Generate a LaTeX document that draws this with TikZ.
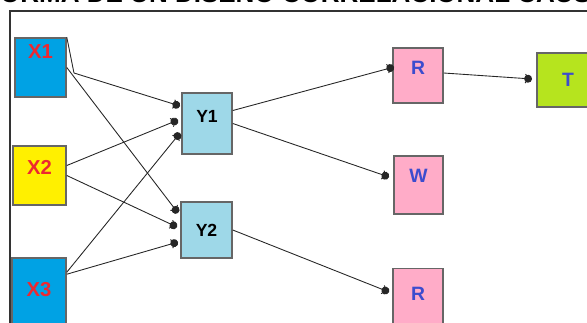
\documentclass[tikz,border=0pt]{standalone}
\usepackage{fontspec}
\setmainfont{Liberation Sans}
\usetikzlibrary{arrows.meta}

\definecolor{xblue}{RGB}{0,162,228}
\definecolor{xyellow}{RGB}{255,240,0}
\definecolor{ycyan}{RGB}{158,216,232}
\definecolor{rpink}{RGB}{255,172,200}
\definecolor{tgreen}{RGB}{182,228,30}
\definecolor{lblred}{RGB}{236,40,48}
\definecolor{lblblue}{RGB}{60,76,206}

\begin{document}
\begin{tikzpicture}[x=0.02cm,y=-0.02cm]
  \tikzset{box/.style = {shape=rectangle,draw=black!60,line width=0.9pt,inner sep=0pt,
      font=\bfseries\fontsize{10}{12}\selectfont}}
  \tikzset{xbox/.style = {box,text=lblred,font=\bfseries\fontsize{11.5}{13}\selectfont}}
  \tikzset{rbox/.style = {box,fill=rpink,text=lblblue,font=\bfseries\fontsize{11}{13}\selectfont}}
  \tikzset{up/.style = {text height=0.26cm,text depth=#1}}
  \tikzset{edge/.style = {line width=0.5pt,black!85,
      -{Straight Barb[length=2.5pt,width=5pt,sep=-3.5pt]Circle[length=4.5pt]}}}

  \clip (0,0) rectangle (587,322);

  % titulo (cortado arriba)
  \node[anchor=base west,inner sep=0pt,font=\bfseries\fontsize{14.8}{16}\selectfont] (titulo)
    at (-16,2.5) {FORMA DE UN DISEÑO CORRELACIONAL CAUSAL};
  \draw[black!80,line width=0.7pt] (10,340) -- (10,11) -- (600,11);

  % variables
  \node[xbox,fill=xblue,minimum width=1.02cm,minimum height=1.18cm,up=0.62cm] (X1) at (40.5,67.5) {X1};
  \node[xbox,fill=xyellow,minimum width=1.06cm,minimum height=1.18cm,up=0.30cm] (X2) at (39.5,175.5) {X2};
  \node[xbox,fill=xblue,minimum width=1.08cm,minimum height=1.32cm,up=0.05cm] (X3) at (39,291) {X3};

  \node[box,fill=ycyan,minimum width=1cm,minimum height=1.22cm,up=0.32cm] (Y1) at (207,123.5) {Y1};
  \node[box,fill=ycyan,minimum width=1.02cm,minimum height=1.12cm,up=0cm] (Y2) at (206.5,230) {Y2};

  \node[rbox,minimum width=1cm,minimum height=1.1cm,up=0.32cm] (R1) at (418,75.5) {R};
  \node[rbox,minimum width=0.98cm,minimum height=1.16cm,up=0.38cm] (W) at (418.5,185) {W};
  \node[rbox,minimum width=1cm,minimum height=1.22cm,up=0.21cm] (R2) at (418,299) {R};
  \node[rbox,fill=tgreen,minimum width=1.24cm,minimum height=1.08cm,up=0cm] (T) at (568,80) {T};

  % entradas
  \coordinate (k1) at (74,73);
  \coordinate (Y1a) at (180,106);
  \coordinate (Y1b) at (178,120);
  \coordinate (Y1c) at (180,133);
  \coordinate (Y2a) at (178,213);
  \coordinate (Y2b) at (177,227);
  \coordinate (Y2c) at (178,242);
  \coordinate (R1a) at (394,67);
  \coordinate (Wa) at (389,177);
  \coordinate (R2a) at (389,292);
  \coordinate (Ta) at (532,79);

  \draw[line width=0.5pt,black!85] (X1.north east) -- (k1);
  \foreach \from/\to in {k1/Y1a, X1.east/Y2a, X2.east/Y2b, Y1.east/Wa, Y2.east/R2a}
    \draw[edge] (\from) -- (\to);
  \draw[edge] ([yshift=0.2cm]X2.east) -- (Y1b);
  \draw[edge] ([yshift=-0.3cm]X3.north east) -- (Y1c);
  \draw[edge] ([yshift=-0.34cm]X3.north east) -- (Y2c);
  \draw[edge] ([yshift=0.26cm]Y1.east) -- (R1a);
  \draw[edge] ([yshift=0.05cm]R1.east) -- (Ta);
\end{tikzpicture}
\end{document}
